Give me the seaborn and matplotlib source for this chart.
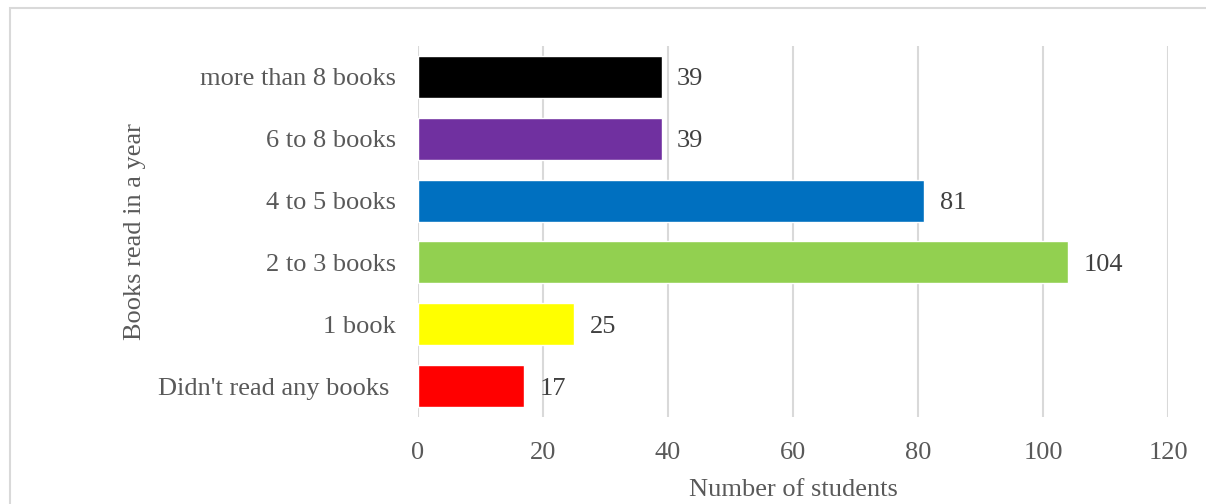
import matplotlib
matplotlib.use("Agg")
import matplotlib.pyplot as plt
import seaborn as sns
import pandas as pd

# data (top to bottom as shown)
categories = ['more than 8 books', '6 to 8 books', '4 to 5 books', '2 to 3 books', '1 book', "Didn't read any books "]
students = [39, 39, 81, 104, 25, 17]
bar_colors = ['#000000', '#7030A0', '#0070C0', '#92D050', '#FFFF00', '#FF0000']
x_ticks = [0, 20, 40, 60, 80, 100, 120]

df = pd.DataFrame({'Books': categories, 'Students': students})

sns.set_style("white")
plt.rcParams['font.family'] = ['Liberation Serif', 'DejaVu Serif']
fs = 19

fig = plt.figure(figsize=(12.06, 5.04), dpi=100)
ax = fig.add_axes([0.3466, 0.1726, 0.6219, 0.7361])

sns.barplot(data=df, x='Students', y='Books', hue='Books', palette=bar_colors,
            order=categories, legend=False, width=0.68, saturation=1, ax=ax)

for c in ax.containers:
    lbls = ax.bar_label(c, padding=11, fontsize=fs, color='#404040')
    for t in lbls:
        t.set_va('center_baseline')

ax.set_xlim(0, 120)
ax.set_xticks(x_ticks)
ax.grid(axis='x', color='#d9d9d9', linewidth=1.5)
ax.set_axisbelow(True)
for s in ax.spines.values():
    s.set_visible(False)
ax.tick_params(axis='both', length=0, labelsize=fs, labelcolor='#595959')
ax.tick_params(axis='y', pad=16)
ax.tick_params(axis='x', pad=18)
ax.set_xlabel('Number of students', fontsize=fs, color='#595959', labelpad=11)
ax.set_ylabel('Books read in a year', fontsize=fs, color='#595959')
ax.yaxis.set_label_coords(-0.363, 0.5)

# light border round the chart
fig.patches.append(plt.Rectangle((10 / 1206, -0.1), 1.2, 1.1 - 8 / 504,
                                 transform=fig.transFigure, fill=False,
                                 edgecolor='#d9d9d9', linewidth=1.5))

plt.savefig('out.png', dpi=100)
